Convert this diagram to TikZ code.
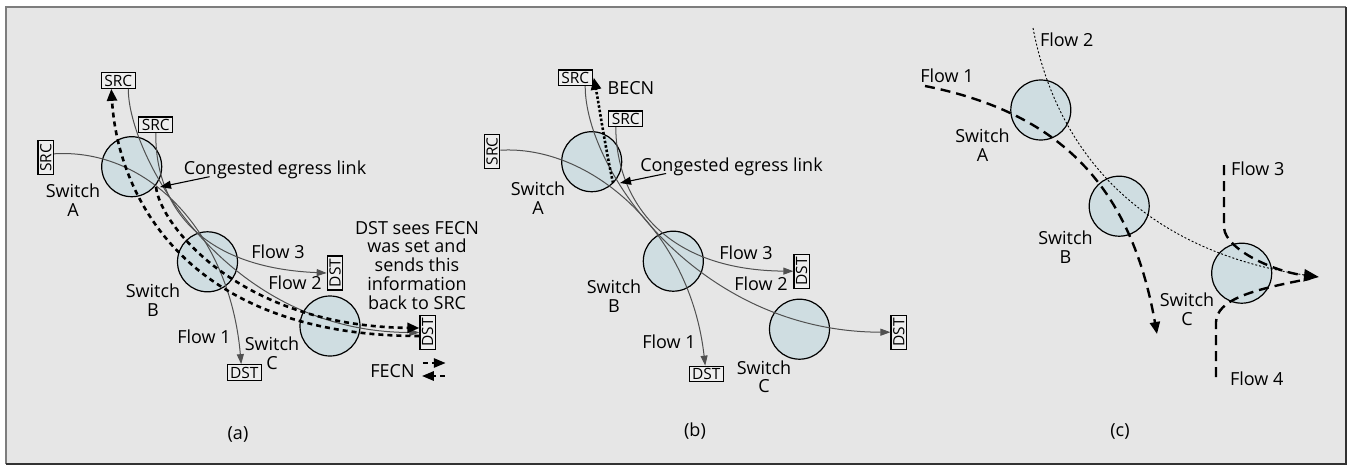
\documentclass[tikz,border=0pt]{standalone}
\usepackage{fontspec}
\setmainfont{Open Sans}
\usetikzlibrary{arrows.meta}
\definecolor{panelbg}{RGB}{230,230,230}
\definecolor{switchfill}{RGB}{207,221,225}
\definecolor{flowgray}{RGB}{80,80,80}
\definecolor{boxfill}{RGB}{238,238,238}
\definecolor{frametop}{RGB}{125,125,125}
\definecolor{framebot}{RGB}{50,50,50}
\begin{document}
\begin{tikzpicture}[x=1pt,y=-1pt,
  switch/.style={circle,draw=black,line width=1.2pt,fill=switchfill,minimum size=60pt,inner sep=0pt},
  endbox/.style={draw=black,line width=1.2pt,fill=boxfill,minimum width=34pt,minimum height=15.5pt,inner sep=0pt,font=\fontsize{15.5}{16}\selectfont},
  vbox/.style={endbox,rotate=90},
  lab/.style={font=\fontsize{18}{19}\selectfont,inner sep=0pt,text height=13pt,text depth=4pt},
  lab2/.style={font=\fontsize{18}{18.8}\selectfont,inner sep=0pt,align=center},
  flow/.style={draw=flowgray,line width=1pt},
  thinhead/.style={-{Triangle[length=10pt,width=7pt]}},
  thickhead/.style={-{Triangle[length=12pt,width=10pt]}},
  notify/.style={line width=2.6pt,dash pattern=on 5pt off 4pt},
  becn/.style={line width=2.6pt,dash pattern=on 2.5pt off 2pt},
  cflow/.style={line width=2.4pt,dash pattern=on 10pt off 6pt},
  cdot/.style={line width=0.9pt,dash pattern=on 2pt off 2pt},
  pointer/.style={line width=1.1pt,-{Triangle[length=11pt,width=8pt]}}
]
\useasboundingbox (0,0) rectangle (1350,466);
% frame
\fill[panelbg] (6,7) rectangle (1346,463.5);
\draw[frametop,line width=2pt] (6,463.5) -- (6,7) -- (1346,7);
\draw[framebot,line width=2pt] (1346,7) -- (1346,463.5) -- (6,463.5);

% ---------------- panel (a): FECN ----------------
\node[switch] (swAa) at (131.7,166.7) {};
\node[switch] (swBa) at (207.5,261.8) {};
\node[switch] (swCa) at (330,326) {};
\node[endbox] (srcTa) at (118.3,80.5) {SRC};
\node[endbox] (srcMa) at (155.8,124.7) {SRC};
\node[vbox] (srcLa) at (45.8,157.8) {SRC};
\node[vbox] (dst3a) at (335,273) {DST};
\node[vbox] (dst2a) at (427.7,332.5) {DST};
\node[endbox] (dst1a) at (244.2,372.5) {DST};
\coordinate (conga) at (156,187);

\draw[flow,thinhead] ([yshift=4pt]srcLa.south) .. controls (150,148) and (230,235) .. ([xshift=-3pt]dst1a.north);
\draw[flow,thinhead] ([xshift=10pt]srcTa.south) .. controls (128,155) and (224,332) .. (dst2a.north);
\draw[flow,thinhead] (srcMa.south) .. controls (155,210) and (205,268) .. (dst3a.north);
\draw[notify,thickhead] (conga) .. controls (160,225) and (240,326) .. ([yshift=4.5pt]dst2a.north);
\draw[notify,thickhead] ([yshift=-3.5pt]dst2a.north) .. controls (190,336) and (118,200) .. ([xshift=-7pt]srcTa.south);

\node[lab2] (lswAa) at (73,200.1) {Switch\\A};
\node[lab2] (lswBa) at (153,299.8) {Switch\\B};
\node[lab2] (lswCa) at (272,353.4) {Switch\\C};
\node[lab] (lf1a) at (204,339) {Flow 1};
\node[lab] (lf3a) at (278,254) {Flow 3};
\node[lab] (lf2a) at (295,285) {Flow 2};
\node[lab] (lconga) at (275,170) {Congested egress link};
\draw[pointer] ([xshift=26pt,yshift=2pt]lconga.south west) -- ([xshift=4pt]conga);
\node[lab2] (lnotea) at (417,265.2) {DST sees FECN\\was set and\\sends this\\information\\back to SRC};
\node[lab] (lfecn) at (392.5,372.5) {FECN};
\draw[notify,-{Triangle[length=12pt,width=9pt]}] ([xshift=8pt,yshift=9.5pt]lfecn.east) -- ([xshift=31pt,yshift=9.5pt]lfecn.east);
\draw[notify,-{Triangle[length=12pt,width=9pt]}] ([xshift=30pt,yshift=-3.5pt]lfecn.east) -- ([xshift=7pt,yshift=-3.5pt]lfecn.east);
\node[lab] (capa) at (238,434.5) {(a)};

% ---------------- panel (b): BECN ----------------
\node[switch] (swAb) at (591.7,161.7) {};
\node[switch] (swBb) at (673.3,261.2) {};
\node[switch] (swCb) at (799.5,329.2) {};
\node[endbox] (srcTb) at (575.2,77.7) {SRC};
\node[endbox] (srcMb) at (625.8,118.8) {SRC};
\node[vbox] (srcLb) at (492,151.2) {SRC};
\node[vbox] (dst3b) at (801.7,271.2) {DST};
\node[vbox] (dst2b) at (898.8,332.2) {DST};
\node[endbox] (dst1b) at (706.2,374) {DST};
\coordinate (congb) at (620,183);

\draw[flow,thinhead] ([yshift=1pt]srcLb.south) .. controls (590,145) and (690,230) .. ([xshift=-1pt]dst1b.north);
\draw[flow,thinhead] ([xshift=10pt]srcTb.south) .. controls (585,169) and (697,332) .. (dst2b.north);
\draw[flow,thinhead] ([xshift=-10pt]srcMb.south) .. controls (616,197) and (661,270) .. (dst3b.north);
\draw[becn,thickhead] ([xshift=-7pt]congb) .. controls (604,140) and (599,105) .. ([xshift=1pt]srcTb.east);

\node[lab2] (lswAb) at (538,198.1) {Switch\\A};
\node[lab2] (lswBb) at (614,295.8) {Switch\\B};
\node[lab2] (lswCb) at (764,376.8) {Switch\\C};
\node[lab] (lf1b) at (669,344) {Flow 1};
\node[lab] (lf3b) at (746,254.5) {Flow 3};
\node[lab] (lf2b) at (761,286) {Flow 2};
\node[lab] (lbecn) at (631,89.5) {BECN};
\node[lab] (lcongb) at (731.5,166.8) {Congested egress link};
\draw[pointer] ([xshift=26pt,yshift=2pt]lcongb.south west) -- (congb);
\node[lab] (capb) at (695,432) {(b)};

% ---------------- panel (c): merging flows ----------------
\node[switch] (swAc) at (1040.8,110) {};
\node[switch] (swBc) at (1119.2,206.2) {};
\node[switch] (swCc) at (1241.7,273.2) {};
\coordinate (c1s) at (925,86);
\coordinate (c1e) at (1157,334);
\coordinate (c2s) at (1033,28);
\coordinate (c3s) at (1224,165);
\coordinate (c4s) at (1216,377);
\coordinate (tipc) at (1319,277);

\draw[cflow,thickhead] (c1s) .. controls (1061,113) and (1131,187) .. (c1e);
\draw[cdot,shorten >=9pt] (c2s) .. controls (1059.7,167.8) and (1159,255) .. (tipc);
\draw[cflow,shorten >=9pt] (c4s) -- (1216,322) .. controls (1217,300) and (1250,290) .. (tipc);
\draw[cflow,-{Triangle[length=15pt,width=12pt]}] (c3s) -- (1224,228) .. controls (1226,250) and (1275,272) .. (tipc);

\node[lab2] (lswAc) at (982.5,145.1) {Switch\\A};
\node[lab2] (lswBc) at (1065.5,246.8) {Switch\\B};
\node[lab2] (lswCc) at (1187,309.1) {Switch\\C};
\node[lab] (lf1c) at (947,78) {Flow 1};
\node[lab] (lf2c) at (1066.7,42) {Flow 2};
\node[lab] (lf3c) at (1257.7,171) {Flow 3};
\node[lab] (lf4c) at (1256.7,381) {Flow 4};
\node[lab] (capc) at (1120,432) {(c)};
\end{tikzpicture}
\end{document}
